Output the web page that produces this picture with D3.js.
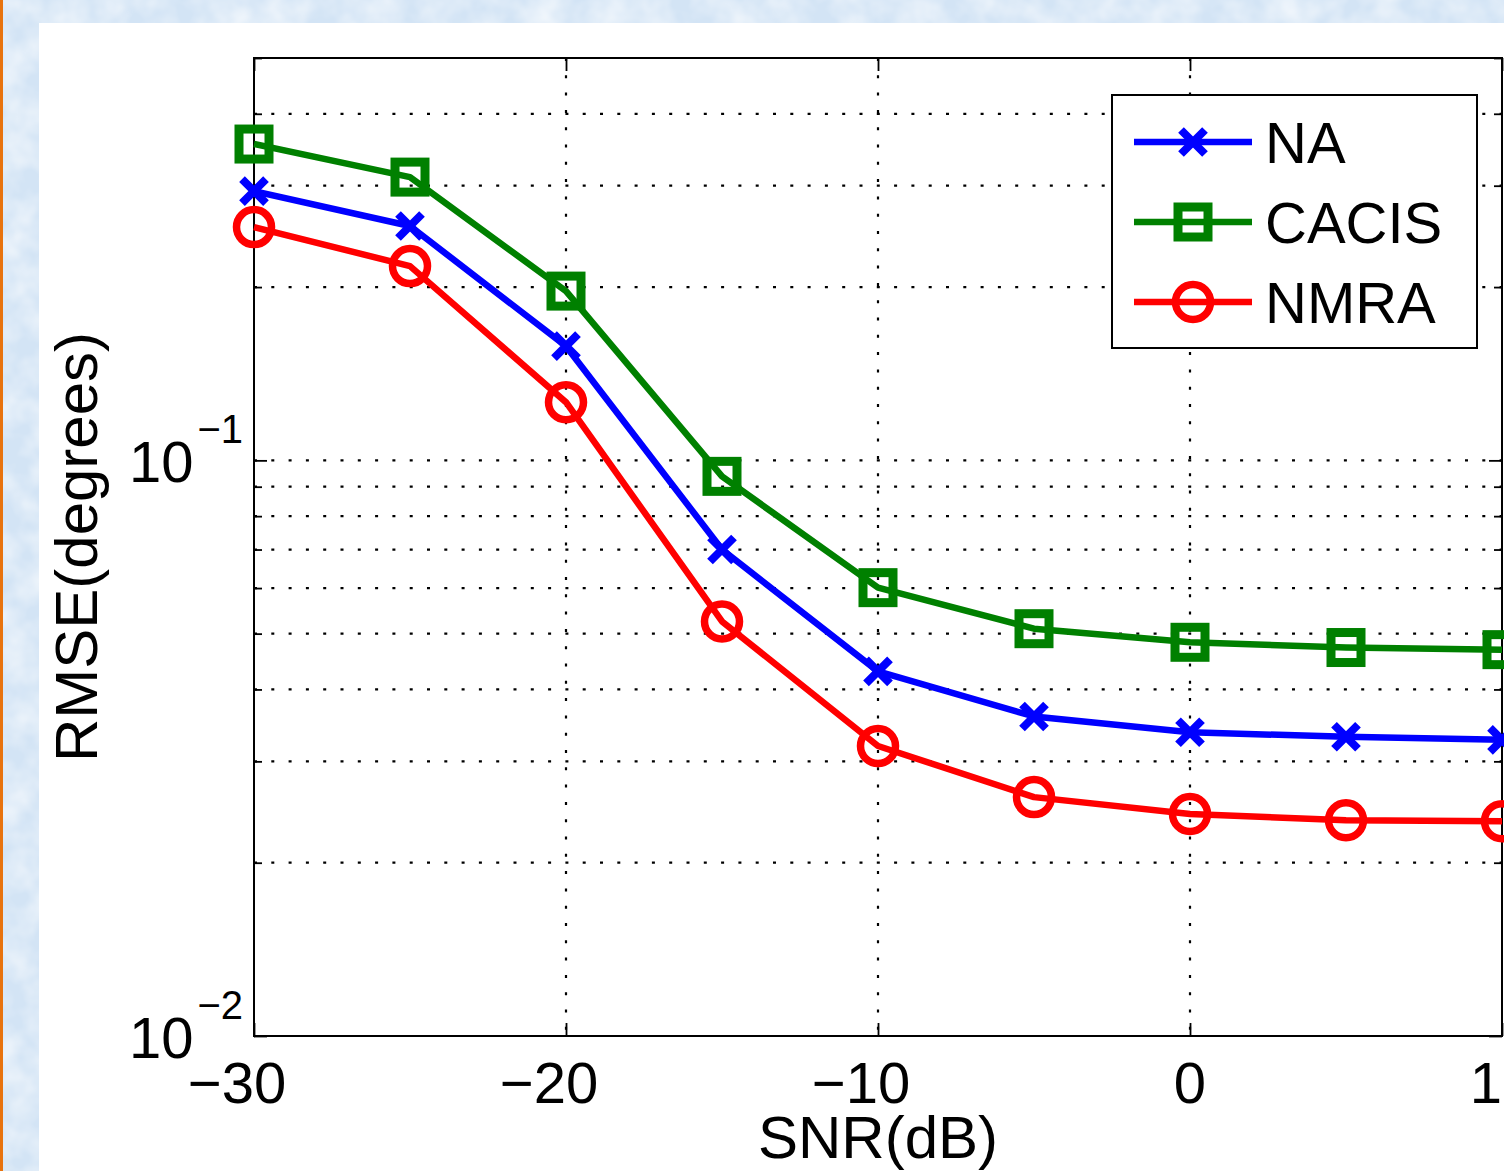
<!DOCTYPE html>
<html>
<head>
<meta charset="utf-8">
<script src="https://cdn.jsdelivr.net/npm/d3@7"></script>
<style>
  html, body { margin: 0; padding: 0; overflow: hidden; background: #d7e7f6; }
  svg { display: block; }
  text { font-family: "Liberation Sans", Arial, Helvetica, sans-serif; fill: #000; }
</style>
</head>
<body>
<svg width="1504" height="1171"></svg>
<script>
// data
const snr = [-30, -25, -20, -15, -10, -5, 0, 5, 10];
const naValues = [0.2936, 0.2553, 0.1579, 0.0700, 0.0430, 0.0359, 0.0337, 0.0331, 0.0327];
const cacisValues = [0.3544, 0.3105, 0.1968, 0.0938, 0.0601, 0.0510, 0.0483, 0.0473, 0.0469];
const nmraValues = [0.2542, 0.2175, 0.1262, 0.0525, 0.0319, 0.0260, 0.0243, 0.0237, 0.0236];
const seriesNames = ['NA', 'CACIS', 'NMRA'];
const seriesColors = ['#0000ff', '#008000', '#ff0000'];
const seriesMarkers = ['x', 'square', 'circle'];
const xTicks = [-30, -20, -10, 0, 10];
const yMajor = [0.01, 0.1];
const yMinor = [0.02, 0.03, 0.04, 0.05, 0.06, 0.07, 0.08, 0.09, 0.2, 0.3, 0.4, 0.5];

const series = [naValues, cacisValues, nmraValues].map((vals, i) => ({
  name: seriesNames[i],
  color: seriesColors[i],
  marker: seriesMarkers[i],
  points: snr.map((s, j) => ({ x: s, y: vals[j] }))
}));

const svg = d3.select('svg');
const W = 1504, H = 1171;
const plotLeft = 254, plotRight = 1502, plotTop = 58, plotBottom = 1036;

// page background (textured blue, orange edge, white panel)
const defs = svg.append('defs');
const tex = defs.append('filter').attr('id', 'tex')
  .attr('x', 0).attr('y', 0).attr('width', '100%').attr('height', '100%');
tex.append('feTurbulence').attr('type', 'fractalNoise')
  .attr('baseFrequency', 0.03).attr('numOctaves', 3).attr('seed', 7);
tex.append('feColorMatrix').attr('type', 'matrix')
  .attr('values', '0 0 0 0 1  0 0 0 0 1  0 0 0 0 1  1.1 0 0 0 -0.35');

svg.append('rect').attr('width', W).attr('height', H).attr('fill', '#d3e4f5');
svg.append('rect').attr('width', W).attr('height', H).attr('filter', 'url(#tex)');
svg.append('rect').attr('width', 3).attr('height', H).attr('fill', '#e8730e');
svg.append('rect').attr('x', 39).attr('y', 23).attr('width', W).attr('height', H).attr('fill', '#fff');

const x = d3.scaleLinear().domain([-30, 10]).range([plotLeft, plotRight]);
const y = d3.scaleLog().domain([0.01, 0.5]).range([plotBottom, plotTop]);

// grid
const grid = svg.append('g')
  .attr('stroke', '#000').attr('stroke-width', 2.2).attr('stroke-dasharray', '3,14.3');
grid.selectAll('.hg').data(yMajor.concat(yMinor).filter(v => v > 0.01 && v < 0.5))
  .enter().append('line')
  .attr('x1', plotLeft).attr('x2', plotRight)
  .attr('y1', d => y(d)).attr('y2', d => y(d));
grid.selectAll('.vg').data(xTicks.filter(v => v > -30 && v < 10))
  .enter().append('line')
  .attr('y1', plotTop).attr('y2', plotBottom)
  .attr('x1', d => x(d)).attr('x2', d => x(d));

// axes via d3 axis generators (ticks inward, mirrored)
const tickLen = 13, minorLen = 8;
function styleAxis(g) {
  g.select('.domain').remove();
  g.selectAll('.tick line').attr('stroke', '#000').attr('stroke-width', 1.8);
  g.selectAll('.tick text').remove();
}
svg.append('g').attr('transform', `translate(0,${plotBottom})`)
  .call(d3.axisBottom(x).tickValues(xTicks).tickSize(-tickLen)).call(styleAxis);
svg.append('g').attr('transform', `translate(0,${plotTop})`)
  .call(d3.axisTop(x).tickValues(xTicks).tickSize(-tickLen)).call(styleAxis);
svg.append('g').attr('transform', `translate(${plotLeft},0)`)
  .call(d3.axisLeft(y).tickValues(yMajor).tickSize(-tickLen)).call(styleAxis);
svg.append('g').attr('transform', `translate(${plotRight},0)`)
  .call(d3.axisRight(y).tickValues(yMajor).tickSize(-tickLen)).call(styleAxis);
svg.append('g').attr('transform', `translate(${plotLeft},0)`)
  .call(d3.axisLeft(y).tickValues(yMinor).tickSize(-minorLen)).call(styleAxis);
svg.append('g').attr('transform', `translate(${plotRight},0)`)
  .call(d3.axisRight(y).tickValues(yMinor).tickSize(-minorLen)).call(styleAxis);

// box
svg.append('rect')
  .attr('x', plotLeft).attr('y', plotTop)
  .attr('width', plotRight - plotLeft).attr('height', plotBottom - plotTop)
  .attr('fill', 'none').attr('stroke', '#000').attr('stroke-width', 2);

// tick labels
const fsTick = 58;
const digitW = 0.556 * fsTick;
svg.append('g').selectAll('text').data(xTicks).enter().append('text')
  .attr('x', d => x(d) + String(Math.abs(d)).length * digitW / 2)
  .attr('y', 1103)
  .attr('text-anchor', 'end')
  .attr('font-size', fsTick)
  .text(d => (d < 0 ? '\u2212' : '') + Math.abs(d));

const yl = svg.append('g').selectAll('text').data(yMajor).enter().append('text')
  .attr('x', 243)
  .attr('y', d => y(d) + 22)
  .attr('text-anchor', 'end')
  .attr('font-size', fsTick);
yl.append('tspan').text('10');
yl.append('tspan').attr('dy', -39).attr('dx', 4).attr('font-size', 40)
  .text(d => '\u2212' + Math.round(-Math.log10(d)));

// axis titles
svg.append('text')
  .attr('x', (plotLeft + plotRight) / 2).attr('y', 1158)
  .attr('text-anchor', 'middle').attr('font-size', 60)
  .text('SNR(dB)');
svg.append('text')
  .attr('transform', `translate(97,${(plotTop + plotBottom) / 2}) rotate(-90)`)
  .attr('text-anchor', 'middle').attr('font-size', 60)
  .text('RMSE(degrees)');

// markers
function drawMarker(g, type, color) {
  if (type === 'square') {
    g.append('rect').attr('x', -15).attr('y', -15).attr('width', 30).attr('height', 30)
      .attr('fill', 'none').attr('stroke', color).attr('stroke-width', 9);
  } else if (type === 'circle') {
    g.append('circle').attr('r', 17.5)
      .attr('fill', 'none').attr('stroke', color).attr('stroke-width', 7.5);
  } else {
    g.append('path').attr('d', 'M-12,-12L12,12M-12,12L12,-12')
      .attr('fill', 'none').attr('stroke', color).attr('stroke-width', 8);
  }
}

const line = d3.line().x(d => x(d.x)).y(d => y(d.y));
series.forEach(s => {
  svg.append('path').datum(s.points)
    .attr('d', line)
    .attr('fill', 'none').attr('stroke', s.color)
    .attr('stroke-width', 6.5).attr('stroke-linejoin', 'round');
  svg.append('g').selectAll('g').data(s.points).enter().append('g')
    .attr('transform', d => `translate(${x(d.x)},${y(d.y)})`)
    .each(function () { drawMarker(d3.select(this), s.marker, s.color); });
});

// legend
const legend = svg.append('g');
legend.append('rect')
  .attr('x', 1112).attr('y', 95).attr('width', 365).attr('height', 253)
  .attr('fill', '#fff').attr('stroke', '#000').attr('stroke-width', 2);
const legendY = d3.scalePoint().domain(seriesNames).range([142, 302]);
series.forEach(s => {
  const yy = legendY(s.name);
  legend.append('line')
    .attr('x1', 1134).attr('x2', 1252).attr('y1', yy).attr('y2', yy)
    .attr('stroke', s.color).attr('stroke-width', 6.5);
  drawMarker(legend.append('g').attr('transform', `translate(1193,${yy})`), s.marker, s.color);
  legend.append('text')
    .attr('x', 1265).attr('y', yy + 21)
    .attr('font-size', 58)
    .text(s.name);
});
</script>
</body>
</html>
